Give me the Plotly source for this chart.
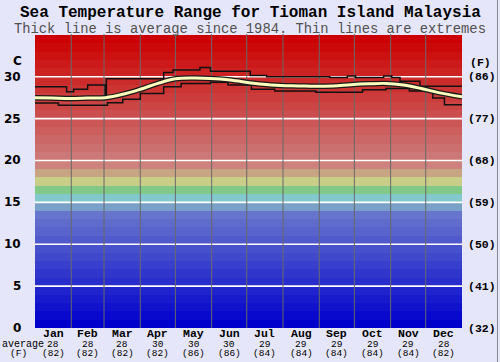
import plotly.graph_objects as go

# ---------------- data ----------------
MONTHS = ["Jan", "Feb", "Mar", "Apr", "May", "Jun", "Jul", "Aug", "Sep", "Oct", "Nov", "Dec"]
MONTH_DAYS = [31, 28, 31, 30, 31, 30, 31, 31, 30, 31, 30, 31]
AVG_C = [28, 28, 28, 30, 30, 30, 29, 29, 29, 29, 29, 28]
AVG_F = [82, 82, 82, 82, 86, 86, 84, 84, 84, 84, 84, 82]
C_TICKS = [0, 5, 10, 15, 20, 25, 30]
F_TICKS = [32, 41, 50, 59, 68, 77, 86]

# average (thick line): day of year -> deg C
AVG_DAY = [0, 15, 30, 45, 60, 75, 90, 105, 120, 135, 150, 165, 180, 195, 210, 225,
           240, 255, 270, 285, 300, 315, 330, 345, 365]
AVG_TEMP = [27.5, 27.45, 27.4, 27.45, 27.5, 27.9, 28.5, 29.2, 29.75, 29.85, 29.8, 29.65,
            29.35, 29.1, 28.95, 28.9, 28.85, 28.9, 29.05, 29.15, 29.2, 29.0, 28.6, 28.1, 27.6]

# extremes (thin step lines)
MAX_DAY = [0, 27, 33, 45, 60, 61, 110, 118, 141, 150, 184, 198, 252, 267, 274, 298, 305, 312, 329, 365]
MAX_TEMP = [28.8, 28.2, 28.5, 29.0, 27.9, 29.75, 30.5, 30.8, 31.1, 30.65, 30.15, 30.0, 29.9, 30.1,
            29.9, 30.1, 29.9, 29.45, 28.85, 28.85]
MIN_DAY = [0, 20, 62, 75, 90, 110, 125, 150, 165, 185, 205, 240, 280, 300, 320, 340, 350, 365]
MIN_TEMP = [26.85, 26.6, 26.9, 27.3, 28.0, 28.8, 29.2, 29.35, 29.0, 28.5, 28.3, 28.15, 28.45,
            28.6, 28.3, 27.45, 26.65, 26.65]

# ---------------- styling helpers ----------------
Y_TOP = 35.1
N_BANDS = 35


def band_color(i):
    if i <= 13:
        return "rgb(%d,%d,204)" % (round(i * 8), round(i * 9))
    special = {14: (120, 160, 200), 15: (130, 200, 205), 16: (130, 200, 135),
               17: (200, 205, 135), 18: (200, 165, 130), 19: (205, 130, 125)}
    if i in special:
        return "rgb(%d,%d,%d)" % special[i]
    g = round(120 - (i - 20) * 120 / 14)
    return "rgb(204,%d,%d)" % (max(g, 0), max(g, 0))


L, R, T, B = 35, 462, 34, 328


def px_x(px):
    return (px - L) / (R - L)


def px_y(py):
    return (B - py) / (B - T)


fig = go.Figure()

# background bands
fig.add_trace(go.Bar(
    x=[182.5] * N_BANDS, y=[1] * N_BANDS, base=list(range(N_BANDS)), width=365,
    marker=dict(color=[band_color(i) for i in range(N_BANDS)], line=dict(width=0)),
    hoverinfo="skip", showlegend=False))

# horizontal white gridlines
gx, gy = [], []
for v in C_TICKS[1:]:
    gx += [0, 365, None]
    gy += [v, v, None]
fig.add_trace(go.Scatter(x=gx, y=gy, mode="lines", line=dict(color="white", width=1.6),
                         hoverinfo="skip", showlegend=False))

# month boundaries
bounds = []
acc = 0
for d in MONTH_DAYS[:-1]:
    acc += d
    bounds.append(acc)
vx, vy = [], []
for b in bounds:
    vx += [b, b, None]
    vy += [0, Y_TOP, None]
fig.add_trace(go.Scatter(x=vx, y=vy, mode="lines", line=dict(color="rgb(105,105,105)", width=1),
                         hoverinfo="skip", showlegend=False))

# extremes
fig.add_trace(go.Scatter(x=MAX_DAY, y=MAX_TEMP, mode="lines", line=dict(color="#111", width=1.5, shape="hv"),
                         hoverinfo="skip", showlegend=False))
fig.add_trace(go.Scatter(x=MIN_DAY, y=MIN_TEMP, mode="lines", line=dict(color="#111", width=1.5, shape="hv"),
                         hoverinfo="skip", showlegend=False))

# average
fig.add_trace(go.Scatter(x=AVG_DAY, y=AVG_TEMP, mode="lines", line=dict(color="#1a1a1a", width=5.5, shape="spline"),
                         hoverinfo="skip", showlegend=False))
fig.add_trace(go.Scatter(x=AVG_DAY, y=AVG_TEMP, mode="lines", line=dict(color="#ffffbe", width=3, shape="spline"),
                         hoverinfo="skip", showlegend=False))

ann = []
MONO = "Liberation Mono"
# title
ann.append(dict(text="<b>Sea Temperature Range for Tioman Island Malaysia</b>", x=0.5, xref="paper",
                xanchor="center", y=px_y(13), yref="paper", yanchor="middle", showarrow=False,
                font=dict(family=MONO, size=16, color="black"), xshift=(250 - (L + R) / 2)))
ann.append(dict(text="Thick line is average since 1984. Thin lines are extremes", x=0.5, xref="paper",
                xanchor="center", y=px_y(29), yref="paper", yanchor="middle", showarrow=False,
                font=dict(family=MONO, size=13.8, color="#505050"), xshift=(250 - (L + R) / 2)))

# left C labels
for v in C_TICKS:
    ann.append(dict(text="<b>%d</b>" % v, x=px_x(23), xref="paper", xanchor="right", y=v, yref="y",
                    yanchor="middle", showarrow=False, font=dict(family="DejaVu Sans", size=12, color="black")))
ann.append(dict(text="<b>C</b>", x=px_x(17), xref="paper", xanchor="center", y=px_y(61), yref="paper",
                yanchor="middle", showarrow=False, font=dict(family="DejaVu Sans", size=12, color="black")))

# right F labels
for v, f in zip(C_TICKS, F_TICKS):
    ann.append(dict(text="<b>(%d)</b>" % f, x=px_x(466), xref="paper", xanchor="left", y=v, yref="y",
                    yanchor="middle", showarrow=False, font=dict(family=MONO, size=11.5, color="black")))
ann.append(dict(text="<b>(F)</b>", x=px_x(480), xref="paper", xanchor="center", y=px_y(62), yref="paper",
                yanchor="middle", showarrow=False, font=dict(family=MONO, size=11.5, color="black")))

# month labels and averages
start = 0
for m, d, c, f in zip(MONTHS, MONTH_DAYS, AVG_C, AVG_F):
    mid = start + d / 2
    start += d
    ann.append(dict(text="<b>%s</b>" % m, x=mid, xref="x", xanchor="center", y=px_y(333.5), yref="paper",
                    yanchor="middle", showarrow=False, borderpad=0,
                    font=dict(family=MONO, size=11.5, color="black")))
    ann.append(dict(text="%d" % c, x=mid, xref="x", xanchor="center", y=px_y(344), yref="paper",
                    yanchor="middle", showarrow=False, borderpad=0,
                    font=dict(family=MONO, size=9.5, color="black")))
    ann.append(dict(text="(%d)" % f, x=mid, xref="x", xanchor="center", y=px_y(353.5), yref="paper",
                    yanchor="middle", showarrow=False, borderpad=0,
                    font=dict(family=MONO, size=9.5, color="black")))
ann.append(dict(text="average", x=px_x(1), xref="paper", xanchor="left", y=px_y(344), yref="paper",
                yanchor="middle", showarrow=False, borderpad=0, font=dict(family=MONO, size=10, color="black")))
ann.append(dict(text="(F)", x=px_x(18), xref="paper", xanchor="center", y=px_y(353.5), yref="paper",
                yanchor="middle", showarrow=False, borderpad=0, font=dict(family=MONO, size=9.5, color="black")))

fig.update_layout(
    width=500, height=362,
    margin=dict(l=L, r=500 - R, t=T, b=362 - B, pad=0),
    paper_bgcolor="#e6e6fa", plot_bgcolor="#e6e6fa",
    barmode="overlay", bargap=0,
    xaxis=dict(range=[0, 365], showgrid=False, zeroline=False, showticklabels=False, ticks="",
               fixedrange=True),
    yaxis=dict(range=[0, Y_TOP], showgrid=False, zeroline=False, showticklabels=False, ticks="",
               fixedrange=True),
    annotations=ann,
    shapes=[dict(type="line", xref="paper", yref="paper", x0=px_x(497.5), x1=px_x(497.5),
                 y0=px_y(0), y1=px_y(362), line=dict(color="#888", width=1))],
    showlegend=False,
)

fig.write_html("out.html", config={"displayModeBar": False},
               post_script="document.body.style.margin='0';document.body.style.overflow='hidden';")
